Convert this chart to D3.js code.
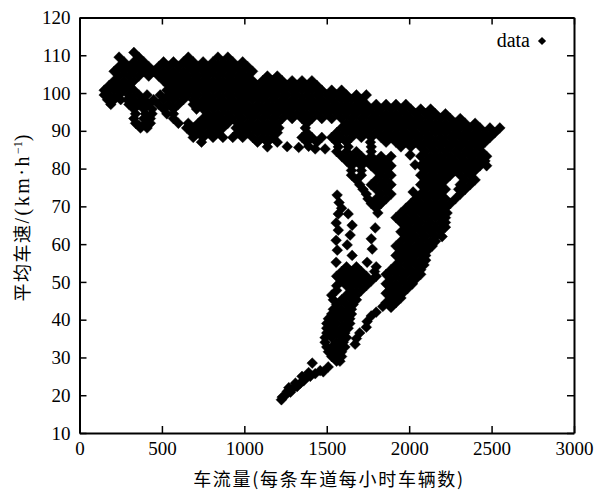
<!DOCTYPE html>
<html lang="en">
<head>
<meta charset="UTF-8">
<title>车流量 - 平均车速</title>
<script src="https://d3js.org/d3.v7.min.js"></script>
<style>
    body { margin: 0; background: #fff; }
</style>
</head>
<body>
<script>
    // values: one speed level, then the flows seen at it
    var speedLevels = [
        110.75, 109.5, 108.25, 107, 105.75, 104.5, 103.25, 102, 100.75, 99.5,
        98.25, 97, 95.75, 94.5, 93.25, 92, 90.75, 89.5, 88.25, 87,
        85.75, 84.5, 83.25, 82, 80.75, 79.5, 78.25, 77, 75.75, 74.5,
        73.25, 72, 70.75, 69.5, 68.25, 67, 65.75, 64.5, 63.25, 62,
        60.75, 59.5, 58.25, 57, 55.75, 54.5, 53.25, 52, 50.75, 49.5,
        48.25, 47, 45.75, 44.5, 43.25,
        54, 52.75, 51.5, 50.25, 49, 47.75, 46.5, 45.25, 44, 42.75,
        41.5, 40.25, 39, 37.75, 36.5, 35.25, 34, 32.75, 31.5, 30.25, 29
    ];
    var flowsAtLevel = [
        [330],
        [240,360,660,840,900],
        [270,330,390,510,570,630,690,750,810,870,930,990],
        [240,300,360,420,480,540,600,660,720,780,840,900,960,1020],
        [210,270,330,390,450,510,570,630,690,750,810,870,930,990,1050],
        [240,300,360,420,480,540,600,660,720,780,840,900,960,1020,1140,1200],
        [210,270,330,510,570,630,690,750,810,870,930,990,1050,1110,1170,1230,1290,1350,1410],
        [180,240,300,540,600,660,720,780,840,900,960,1020,1080,1140,1200,1260,1320,1380,1440],
        [150,210,270,330,530,570,630,690,750,810,870,930,990,1050,1110,1170,1230,1290,1350,1410,1470,1530,1590],
        [150,180,240,300,360,410,490,540,600,660,720,780,840,900,960,1020,1080,1140,1200,1260,1320,1380,1440,1500,1560,1620,1680,1740],
        [170,210,250,290,330,390,450,510,570,630,690,750,810,870,930,990,1050,1110,1170,1230,1290,1350,1410,1470,1530,1590,1650,1710],
        [190,300,360,420,480,540,600,690,720,780,840,900,960,1020,1080,1140,1200,1260,1320,1380,1440,1500,1560,1620,1680,1740,1800,1860,1920,1980],
        [330,390,440,510,570,710,750,810,870,930,990,1050,1110,1170,1230,1290,1350,1410,1470,1530,1590,1650,1710,1770,1830,1890,1950,2010,2070,2130],
        [340,400,440,530,570,780,840,900,960,1020,1080,1140,1200,1260,1320,1380,1440,1500,1560,1620,1680,1740,1800,1860,1920,1980,2040,2100,2160,2220],
        [330,390,430,570,750,810,870,930,990,1050,1110,1170,1230,1290,1350,1410,1470,1530,1590,1650,1710,1770,1830,1890,1950,2010,2070,2130,2190,2250,2310],
        [340,400,430,600,660,720,780,840,900,960,1020,1080,1140,1200,1380,1620,1680,1740,1800,1860,1920,1980,2040,2100,2160,2220,2280,2340,2400],
        [370,410,650,690,750,810,870,950,990,1050,1110,1170,1210,1370,1590,1650,1710,1770,1830,1890,1950,2010,2070,2130,2190,2250,2310,2370,2430,2490,2550],
        [680,720,780,840,960,1020,1080,1140,1200,1380,1560,1620,1680,1740,1800,1860,1920,1980,2040,2100,2160,2220,2280,2340,2400,2460,2520],
        [690,750,810,870,930,990,1050,1110,1170,1350,1410,1470,1530,1590,1650,1710,1770,1830,1890,1950,2010,2070,2130,2190,2250,2310,2370,2430,2490],
        [740,1080,1140,1200,1380,1440,1560,1620,1765,1860,1920,1980,2040,2100,2160,2220,2280,2340,2400,2460],
        [1140,1570,1630,1770,1950,2010,2070,2130,2190,2250,2310,2370,2430],
        [1560,1620,1680,1770,2100,2160,2220,2280,2340,2400,2440],
        [1590,1650,1710,1770,1830,1890,2070,2130,2190,2250,2310,2370,2430,2470],
        [1620,1680,1740,1800,1860,2100,2160,2220,2280,2340,2400,2460],
        [1650,1710,1770,1830,1890,2070,2130,2190,2250,2310,2370,2430,2470],
        [1650,1710,1800,1860,2100,2160,2220,2280,2340,2400],
        [1650,1710,1830,1890,2070,2130,2190,2250,2310,2370],
        [1680,1800,1860,2100,2160,2220,2340,2400],
        [1700,1770,1830,1890,2070,2130,2190,2310,2370],
        [1720,1800,1860,2100,2160,2220,2300,2340],
        [1740,1830,1890,2070,2130,2190,2310],
        [1750,1800,1860,2040,2100,2160,2220,2280],
        [1770,1830,2010,2070,2130,2190,2250],
        [1800,1980,2040,2100,2160,2220],
        [1810,1950,2010,2070,2130,2190,2230],
        [1920,1980,2040,2100,2160,2220],
        [1950,2010,2070,2130,2190,2220],
        [1980,2040,2100,2160,2220],
        [1950,2010,2070,2130,2190],
        [1980,2040,2100,2160,2200],
        [1950,2010,2070,2130,2160],
        [1920,1980,2040,2100,2140],
        [1950,2010,2070,2110],
        [1920,1980,2040,2100],
        [1950,2010,2070,2100],
        [1920,1980,2040,2090],
        [1890,1950,2010,2070],
        [1860,1920,1980,2040,2070],
        [1890,1950,2010,2040],
        [1860,1920,1980,2020],
        [1890,1950,1990],
        [1860,1920,1960],
        [1890,1950],
        [1860,1920],
        [1890],
        [1620,1680,1800],
        [1590,1650,1710,1790],
        [1560,1620,1680,1740,1800],
        [1590,1650,1710,1770],
        [1560,1620,1680,1740],
        [1560,1650,1710],
        [1530,1620,1680],
        [1540,1590,1650,1680],
        [1560,1620,1660],
        [1540,1590,1650],
        [1530,1560,1620,1650],
        [1510,1530,1590,1640],
        [1500,1560,1620,1640],
        [1500,1530,1590,1630],
        [1500,1560,1610],
        [1490,1530,1590,1620],
        [1490,1560,1600],
        [1500,1530,1590,1610],
        [1510,1560,1590],
        [1530,1570,1590],
        [1560,1580]
    ];

    // single points: streaks, stray dots and the low speed tail
    var flowPoints = [
        360, 1260, 1330, 1390, 1430, 1490, 2006, 2036, 2024,
        1563, 1575, 1590, 1570, 1630, 1557, 1654, 1570, 1642, 1557, 1624, 1564, 1654, 1557,
        1794, 1770, 1776, 1745,
        1840, 1800, 1770, 1745, 1740, 1700, 1680, 1672,
        1412, 1509,
        1230, 1250, 1225, 1260, 1280, 1300, 1320, 1340, 1360, 1380, 1400, 1430, 1460, 1270, 1310, 1350, 1390, 1479
    ];
    var speedPoints = [
        91.5, 85.8, 85.6, 85.9, 85.2, 85.2, 83.6, 81, 73.8,
        73, 71, 69.5, 68, 68, 65.6, 65, 63.7, 62.4, 61, 59.8, 58.4, 57, 55.2,
        64.3, 61.4, 58.7, 55.2,
        43.5, 42, 41, 39.5, 38, 36.5, 35, 33.5,
        28.5, 27.5,
        19.5, 20, 18.8, 21, 20.8, 22, 22.3, 23.2, 23.8, 24.8, 25, 25.7, 26.5, 22, 23.2, 25, 26, 26.2
    ];

    var xTicks = [0, 500, 1000, 1500, 2000, 2500, 3000];
    var yTicks = [10, 20, 30, 40, 50, 60, 70, 80, 90, 100, 110, 120];

    var margin = {top: 17.5, right: 22, bottom: 57, left: 79.5},
        width = 596 - margin.left - margin.right,
        height = 490 - margin.top - margin.bottom;

    var svg = d3.select("body").append("svg")
        .attr("width", 596)
        .attr("height", 490)
        .style("display", "block")
        .append("g")
        .attr("transform", "translate(" + margin.left + "," + margin.top + ")");

    var x = d3.scaleLinear().domain([0, 3000]).range([0, width]);
    var y = d3.scaleLinear().domain([10, 120]).range([height, 0]);

    // flatten the levels and the single points into one list of marks
    var points = [];
    speedLevels.forEach(function(s, i) {
        flowsAtLevel[i].forEach(function(f) { points.push({flow: f, speed: s}); });
    });
    flowPoints.forEach(function(f, i) { points.push({flow: f, speed: speedPoints[i]}); });

    var marker = d3.symbol().type(d3.symbolSquare).size(58);

    svg.append("g")
        .selectAll("path")
        .data(points)
        .enter()
        .append("path")
        .attr("d", marker)
        .attr("transform", d => "translate(" + x(d.flow) + "," + y(d.speed) + ") rotate(45)")
        .style("fill", "#000")
        .style("stroke", "#000")
        .style("stroke-width", 0.4);

    // axes, ticks point inward on all four sides
    var serif = "'Liberation Serif', serif";
    svg.append("g")
        .attr("transform", "translate(0," + height + ")")
        .call(d3.axisBottom(x).tickValues(xTicks).tickFormat(d3.format("d")).tickSizeInner(-7).tickSizeOuter(0).tickPadding(9));
    svg.append("g")
        .call(d3.axisLeft(y).tickValues(yTicks).tickSizeInner(-7).tickSizeOuter(0).tickPadding(9));
    svg.append("g")
        .call(d3.axisTop(x).tickValues(xTicks).tickFormat("").tickSizeInner(-7).tickSizeOuter(0));
    svg.append("g")
        .attr("transform", "translate(" + width + ",0)")
        .call(d3.axisRight(y).tickValues(yTicks).tickFormat("").tickSizeInner(-7).tickSizeOuter(0));

    svg.selectAll(".domain").attr("stroke", "#000").attr("stroke-width", 2);
    svg.selectAll(".tick line").attr("stroke", "#000").attr("stroke-width", 1.5);
    svg.selectAll(".tick text").style("font-family", serif).style("font-size", "19px").style("fill", "#000");

    // axis titles
    var cjk = "'Noto Sans CJK SC', sans-serif";
    svg.append("text")
        .attr("x", 329 - margin.left)
        .attr("y", 486 - margin.top)
        .attr("text-anchor", "middle")
        .style("font-family", cjk)
        .style("font-size", "18px")
        .style("letter-spacing", "1.7px")
        .text("车流量(每条车道每小时车辆数)");

    var yTitle = svg.append("text")
        .attr("transform", "translate(" + (29 - margin.left) + "," + (218 - margin.top) + ") rotate(-90)")
        .attr("text-anchor", "middle")
        .style("font-family", cjk)
        .style("font-size", "18px")
        .style("letter-spacing", "1.5px");
    yTitle.append("tspan").text("平均车速");
    yTitle.append("tspan").style("font-family", serif).style("font-size", "20px").style("letter-spacing", "2.5px").text("/(km·h");
    yTitle.append("tspan").attr("dy", -7).style("font-family", serif).style("font-size", "12px").style("letter-spacing", "0").text("−1");
    yTitle.append("tspan").attr("dy", 7).style("font-family", serif).style("font-size", "20px").style("letter-spacing", "0").text(")");

    // legend
    svg.append("text")
        .attr("x", 530 - margin.left)
        .attr("y", 47 - margin.top)
        .attr("text-anchor", "end")
        .style("font-family", serif)
        .style("font-size", "20px")
        .text("data");
    svg.append("path")
        .attr("d", d3.symbol().type(d3.symbolSquare).size(34))
        .attr("transform", "translate(" + (542 - margin.left) + "," + (41 - margin.top) + ") rotate(45)")
        .style("fill", "#000");
</script>
</body>
</html>
